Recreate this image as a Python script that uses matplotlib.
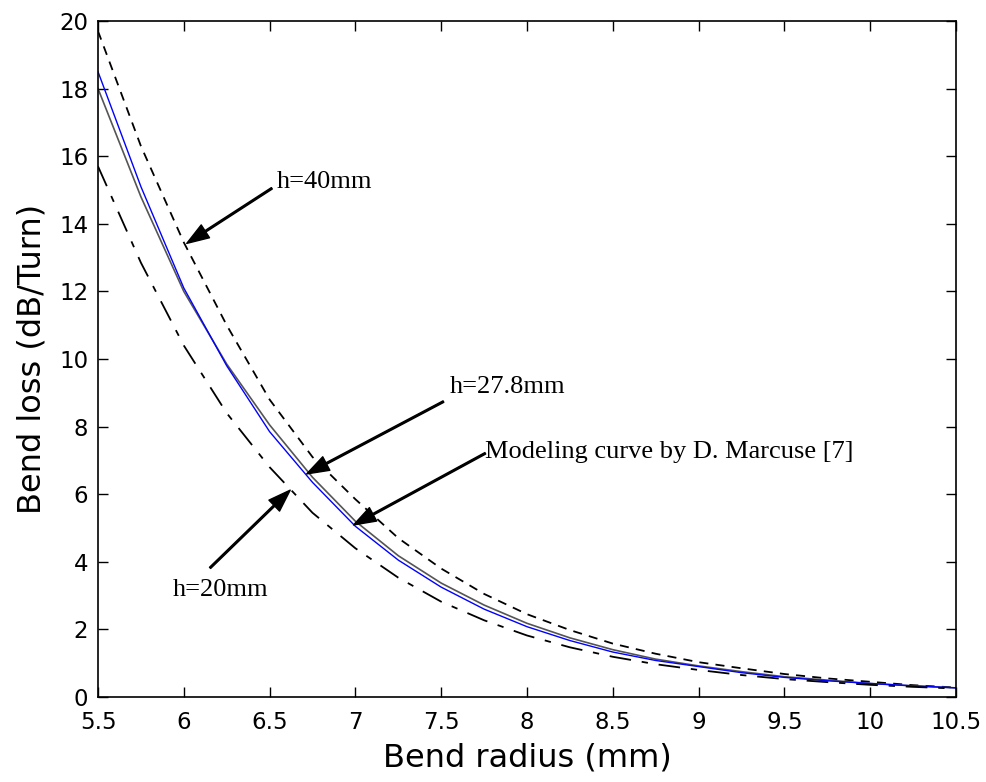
import matplotlib
matplotlib.use("Agg")
import matplotlib.pyplot as plt

# Bend radius (mm)
radius = [5.5, 5.75, 6.0, 6.25, 6.5, 6.75, 7.0, 7.25, 7.5, 7.75, 8.0,
          8.25, 8.5, 8.75, 9.0, 9.25, 9.5, 9.75, 10.0, 10.25, 10.5]

# Bend loss (dB/Turn)
loss_h40 = [19.7, 16.3, 13.45, 11.0, 8.8, 7.1, 5.85, 4.7, 3.8, 3.05, 2.45,
            1.98, 1.58, 1.28, 1.03, 0.85, 0.68, 0.55, 0.45, 0.35, 0.28]
loss_h278 = [18.0, 14.8, 12.0, 9.85, 8.05, 6.5, 5.2, 4.18, 3.37, 2.72, 2.18,
             1.75, 1.40, 1.12, 0.92, 0.75, 0.60, 0.50, 0.40, 0.33, 0.27]
loss_model = [18.5, 15.1, 12.1, 9.8, 7.85, 6.35, 5.05, 4.05, 3.25, 2.6, 2.08,
              1.67, 1.33, 1.08, 0.90, 0.72, 0.58, 0.48, 0.40, 0.33, 0.27]
loss_h20 = [15.7, 12.85, 10.4, 8.4, 6.8, 5.45, 4.4, 3.53, 2.82, 2.27, 1.82,
            1.47, 1.19, 0.97, 0.80, 0.65, 0.53, 0.44, 0.36, 0.30, 0.25]

xticks = [5.5, 6, 6.5, 7, 7.5, 8, 8.5, 9, 9.5, 10, 10.5]
xticklabels = ["5.5", "6", "6.5", "7", "7.5", "8", "8.5", "9", "9.5", "10", "10.5"]
yticks = [0, 2, 4, 6, 8, 10, 12, 14, 16, 18, 20]

plt.rcParams['font.family'] = ['DejaVu Sans']

fig = plt.figure(figsize=(9.86, 7.82), dpi=100)
ax = fig.add_axes([98/986, 1-697/782, (956-98)/986, (697-21)/782])

ax.plot(radius, loss_h40, color='black', lw=1.3, linestyle=(0, (5, 4)))
ax.plot(radius, loss_h278, color='#555555', lw=1.2, linestyle='-')
ax.plot(radius, loss_model, color='#0000ff', lw=1.0, linestyle='-')
ax.plot(radius, loss_h20, color='black', lw=1.3, linestyle=(0, (12, 6, 3.5, 6)))

ax.set_xlim(5.5, 10.5)
ax.set_ylim(0, 20)
ax.set_xticks(xticks)
ax.set_xticklabels(xticklabels)
ax.set_yticks(yticks)
ax.tick_params(direction='in', top=True, right=True, length=7, width=1,
               labelsize=16.5)
ax.tick_params(axis='x', pad=10)
ax.tick_params(axis='y', pad=7)
for s in ax.spines.values():
    s.set_linewidth(1.2)

ax.set_xlabel("Bend radius (mm)", fontsize=23, labelpad=6)
ax.set_ylabel("Bend loss (dB/Turn)", fontsize=23, labelpad=8)

aprops = dict(facecolor='black', edgecolor='black', width=1.2,
              headwidth=11, headlength=16, shrink=0.0)
tfont = dict(family=['Liberation Serif', 'DejaVu Serif'], fontsize=19)

ax.annotate("", xy=(6.017, 13.42), xytext=(6.513, 15.05), arrowprops=aprops)
ax.text(6.544, 15.24, "h=40mm", ha='left', va='center', **tfont)

ax.annotate("", xy=(6.716, 6.60), xytext=(7.513, 8.74), arrowprops=aprops)
ax.text(7.553, 9.17, "h=27.8mm", ha='left', va='center', **tfont)

ax.annotate("", xy=(6.989, 5.09), xytext=(7.757, 7.21), arrowprops=aprops)
ax.text(7.757, 7.25, "Modeling curve by D. Marcuse [7]", ha='left', va='center', **tfont)

ax.annotate("", xy=(6.62, 6.12), xytext=(6.153, 3.82), arrowprops=aprops)
ax.text(5.935, 3.17, "h=20mm", ha='left', va='center', **tfont)

fig.savefig("out.png", dpi=100)
